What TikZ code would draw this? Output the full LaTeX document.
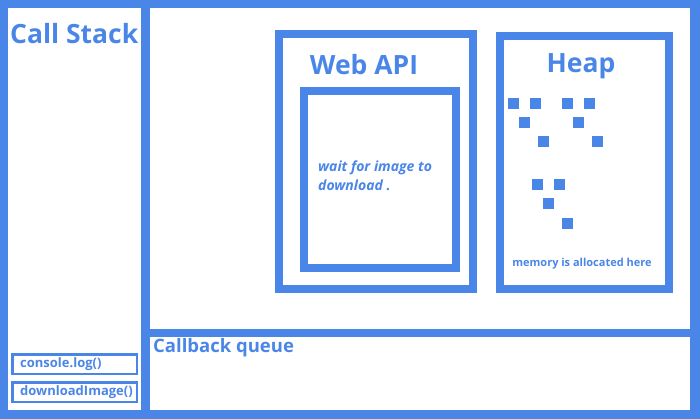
\documentclass[tikz,border=0pt]{standalone}
\usepackage{fontspec}
\setmainfont{Open Sans}
\usetikzlibrary{positioning}
\definecolor{jsblue}{HTML}{4A86E8}

\begin{document}
\begin{tikzpicture}[x=1pt,y=-1pt,
    frame/.style={draw=jsblue, line width=8pt, fill=white, inner sep=0, outer sep=0, anchor=north west},
    slot/.style={draw=jsblue, line width=2.5pt, fill=white, inner sep=0, outer sep=0, anchor=north west},
    title/.style={text=jsblue, font=\bfseries\fontsize{26.5}{30}\selectfont, inner sep=0},
    caption/.style={text=jsblue, font=\bfseries\fontsize{13}{15}\selectfont, inner sep=0, anchor=west},
    block/.style={fill=jsblue, minimum size=11pt, inner sep=0}]
  \useasboundingbox (0,0) rectangle (700,419);

  % background and the three white panels
  \fill[jsblue] (0,0) rectangle (700,419);
  \node[fill=white, inner sep=0, outer sep=0, anchor=north west, minimum width=133pt, minimum height=402pt] (stack) at (8,8) {};
  \node[fill=white, inner sep=0, outer sep=0, anchor=north west, minimum width=540pt, minimum height=321pt] (runtime) at (150,8) {};
  \node[fill=white, inner sep=0, outer sep=0, anchor=north west, minimum width=540pt, minimum height=73pt] (queue) at (150,337) {};

  \node[title, anchor=west] (stacklabel) at (10,34) {Call Stack};
  \node[caption, font=\bfseries\fontsize{18.5}{22}\selectfont] (queuelabel) at (153,348) {Callback queue};

  % call stack frames
  \node[slot, minimum width=124.5pt, minimum height=19.5pt] (logslot) at (12.25,354.25) {};
  \node[slot, minimum width=124.5pt, minimum height=19.5pt] (dlslot) at (12.25,382.25) {};
  \node[caption, font=\bfseries\fontsize{13}{15}\selectfont] (logtext) at (20,364) {console.log()};
  \node[caption, font=\bfseries\fontsize{13}{15}\selectfont] (dltext) at (20,392) {downloadImage()};

  % web api
  \node[frame, minimum width=194pt, minimum height=255pt] (webapi) at (279,34) {};
  \node[title] (webapilabel) at (364,65) {Web API};
  \node[frame, minimum width=152pt, minimum height=177pt] (timer) at (304,91) {};
  \node[caption, font=\bfseries\itshape\fontsize{14}{19}\selectfont, align=left, anchor=north west]
    (waittext) at (318,161) {wait for image to\\download .};

  % heap
  \node[frame, minimum width=169pt, minimum height=253pt] (heap) at (500,36) {};
  \node[title] (heaplabel) at (581,66) {Heap};
  \foreach \bx/\by in {513.8/103.2, 535.5/103.2, 567.8/103.2, 589.8/103.2,
                       524.5/122.5, 578.8/122.5,
                       543.5/141.5, 597.8/141.5,
                       537.8/184.8, 559.8/184.8,
                       548.8/203.8,
                       567.8/223.2}
    \node[block] at (\bx,\by) {};
  \node[caption, font=\bfseries\fontsize{11}{13}\selectfont, anchor=center] (heaptext) at (582,264) {memory is allocated here};
\end{tikzpicture}
\end{document}
